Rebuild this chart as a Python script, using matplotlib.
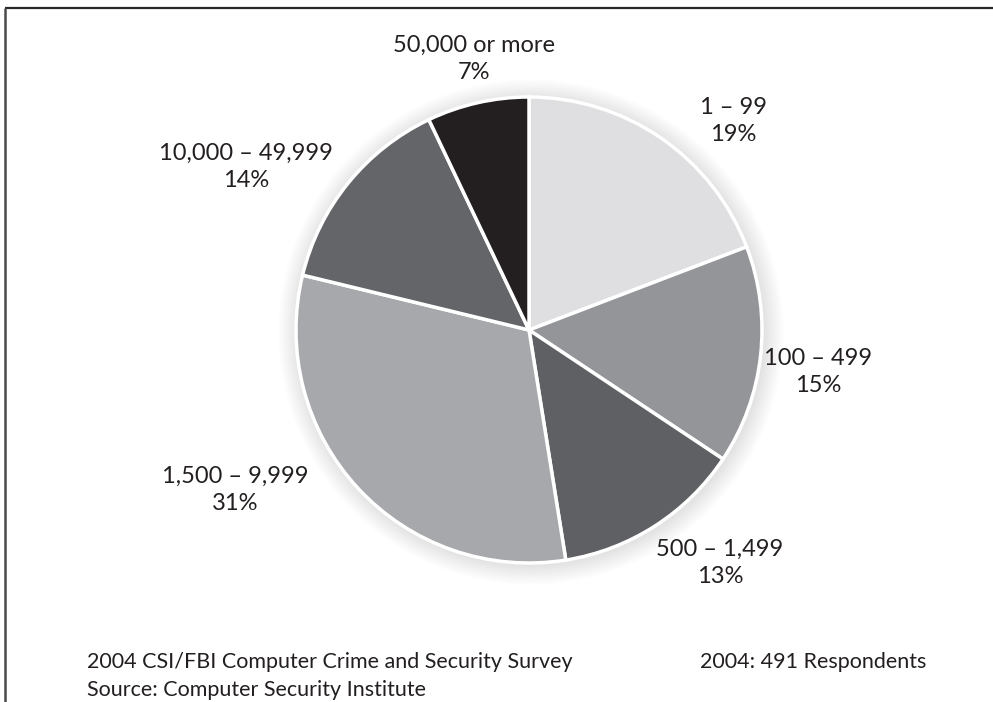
import matplotlib.pyplot as plt
from matplotlib.patches import Circle

plt.rcParams['font.family'] = ['Lato', 'DejaVu Sans']

categories = ['1 – 99', '100 – 499', '500 – 1,499', '1,500 – 9,999',
              '10,000 – 49,999', '50,000 or more']
shares = [19, 15, 13, 31, 14, 7]
colors = ['#dfdfe1', '#939598', '#5f6064', '#a6a8ab', '#636569', '#231f20']
# label centres in pixel coordinates (y from top)
label_pos = [(733, 121), (818, 372), (720, 563), (235, 490), (246, 167), (474, 59)]

W, H = 993, 702
fig = plt.figure(figsize=(W / 100, H / 100), dpi=100)
ax = fig.add_axes([0, 0, 1, 1])

cx, cy, r = 529, H - 330, 233

# soft halo behind the pie
for k in range(14, 0, -1):
    ax.add_patch(Circle((cx + 2, cy - 2), r + k * 1.4, color='#000000',
                        alpha=0.009, lw=0, zorder=1))

ax.pie(shares, colors=colors, startangle=90, counterclock=False,
       center=(cx, cy), radius=r, frame=True,
       wedgeprops=dict(edgecolor='white', linewidth=2.5, zorder=2))
ax.set_xlim(0, W)
ax.set_ylim(0, H)
ax.set_aspect('equal')
ax.axis('off')

for cat, val, (x, y) in zip(categories, shares, label_pos):
    ax.text(x, H - y, f'{cat}\n{val}%', ha='center', va='center',
            fontsize=17, color='#231f20', linespacing=1.4)

ax.text(87, H - 662, '2004 CSI/FBI Computer Crime and Security Survey',
        ha='left', va='center', fontsize=15.5, color='#231f20')
ax.text(87, H - 690, 'Source: Computer Security Institute',
        ha='left', va='center', fontsize=15.5, color='#231f20')
ax.text(700, H - 662, '2004: 491 Respondents',
        ha='left', va='center', fontsize=15.5, color='#231f20')

# frame lines along top and left edge
ax.plot([5, W], [H - 7.5, H - 7.5], color='#2a2a2a', lw=1.6, solid_capstyle='butt')
ax.plot([5, 5], [0, H - 7.5], color='#4a4a4a', lw=1.8, solid_capstyle='butt')

fig.savefig('out.png', dpi=100)
